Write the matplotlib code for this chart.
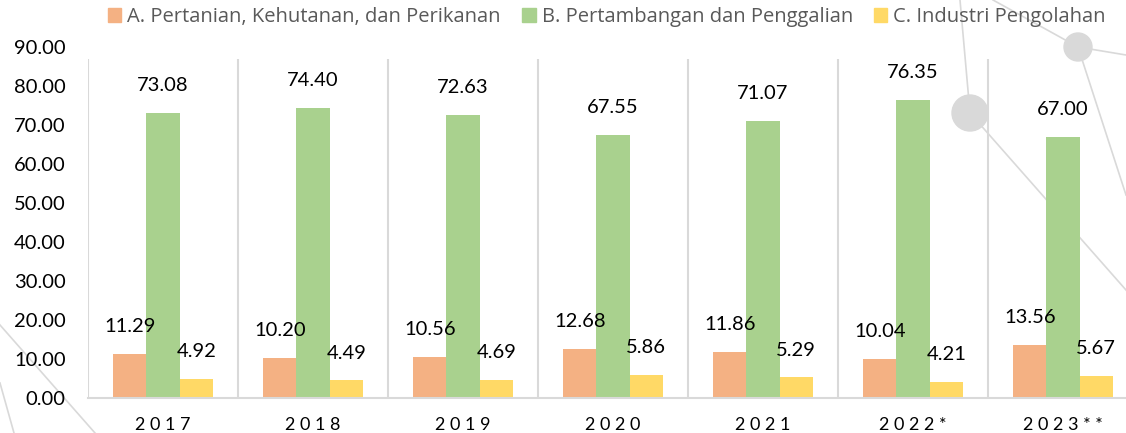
import matplotlib.pyplot as plt
import numpy as np
from matplotlib.lines import Line2D
from matplotlib.patches import Circle, Patch

years = ["2017", "2018", "2019", "2020", "2021", "2022*", "2023**"]
pertanian = [11.29, 10.20, 10.56, 12.68, 11.86, 10.04, 13.56]
pertambangan = [73.08, 74.40, 72.63, 67.55, 71.07, 76.35, 67.00]
industri = [4.92, 4.49, 4.69, 5.86, 5.29, 4.21, 5.67]
series_names = [
    "A. Pertanian, Kehutanan, dan Perikanan",
    "B. Pertambangan dan Penggalian",
    "C. Industri Pengolahan",
]
colors = ["#F4B183", "#A9D18E", "#FFD966"]
grid_grey = "#D9D9D9"

plt.rcParams["font.family"] = ["Lato", "DejaVu Sans"]

fig = plt.figure(figsize=(11.26, 4.33), dpi=100)

# decorative network lines in the background (pixel coords)
bg = fig.add_axes([0, 0, 1, 1], zorder=0)
bg.set_xlim(0, 1126)
bg.set_ylim(433, 0)
bg.axis("off")
deco_lines = [
    ((960, 0), (970, 113)),
    ((970, 113), (1126, 290)),
    ((993, 0), (1078, 47)),
    ((1078, 47), (1126, 55)),
    ((1078, 47), (1126, 195)),
    ((0, 325), (95, 433)),
    ((0, 383), (14, 433)),
]
for (x0, y0), (x1, y1) in deco_lines:
    bg.add_line(Line2D([x0, x1], [y0, y1], color=grid_grey, lw=1.2))
bg.add_patch(Circle((970, 113), 18, color=grid_grey))
bg.add_patch(Circle((1078, 47), 14, color=grid_grey))

ax = fig.add_axes([88 / 1126, 35 / 433, 1050 / 1126, 351 / 433], zorder=1)
ax.patch.set_alpha(0)

x = np.arange(len(years))
w = 0.222
all_series = [pertanian, pertambangan, industri]
for i, (vals, col) in enumerate(zip(all_series, colors)):
    xs = x + (i - 1) * w
    ax.bar(xs, vals, width=w, color=col, zorder=2)
    for xi, v in zip(xs, vals):
        ax.text(xi, v + 7, f"{v:.2f}", ha="center", va="center",
                fontsize=14.5, color="#000000", zorder=3)

ax.vlines(np.arange(len(years) + 1) - 0.5, 0, 87, color=grid_grey, lw=1.5, zorder=1)

ax.set_xlim(-0.5, len(years) - 0.5)
ax.set_ylim(0, 90)
ax.set_yticks(np.arange(0, 91, 10))
ax.set_yticklabels([f"{t:.2f}" for t in np.arange(0, 91, 10)], fontsize=14.5)
ax.set_xticks(x)
ax.set_xticklabels([" ".join(y) for y in years], fontsize=13)
ax.tick_params(axis="both", length=0)
ax.tick_params(axis="y", pad=16)
ax.tick_params(axis="x", pad=14)
for s in ["top", "right", "left"]:
    ax.spines[s].set_visible(False)
ax.spines["bottom"].set_color(grid_grey)
ax.spines["bottom"].set_linewidth(1.5)

handles = [Patch(color=c) for c in colors]
fig.legend(handles, series_names, loc="center", bbox_to_anchor=(0.539, 1 - 17 / 433),
           ncol=3, frameon=False, handlelength=0.67, handleheight=0.67,
           handletextpad=0.3, columnspacing=1.05,
           prop={"family": "Open Sans", "size": 14.5}, labelcolor="#595959")

fig.savefig("out.png", dpi=100)
